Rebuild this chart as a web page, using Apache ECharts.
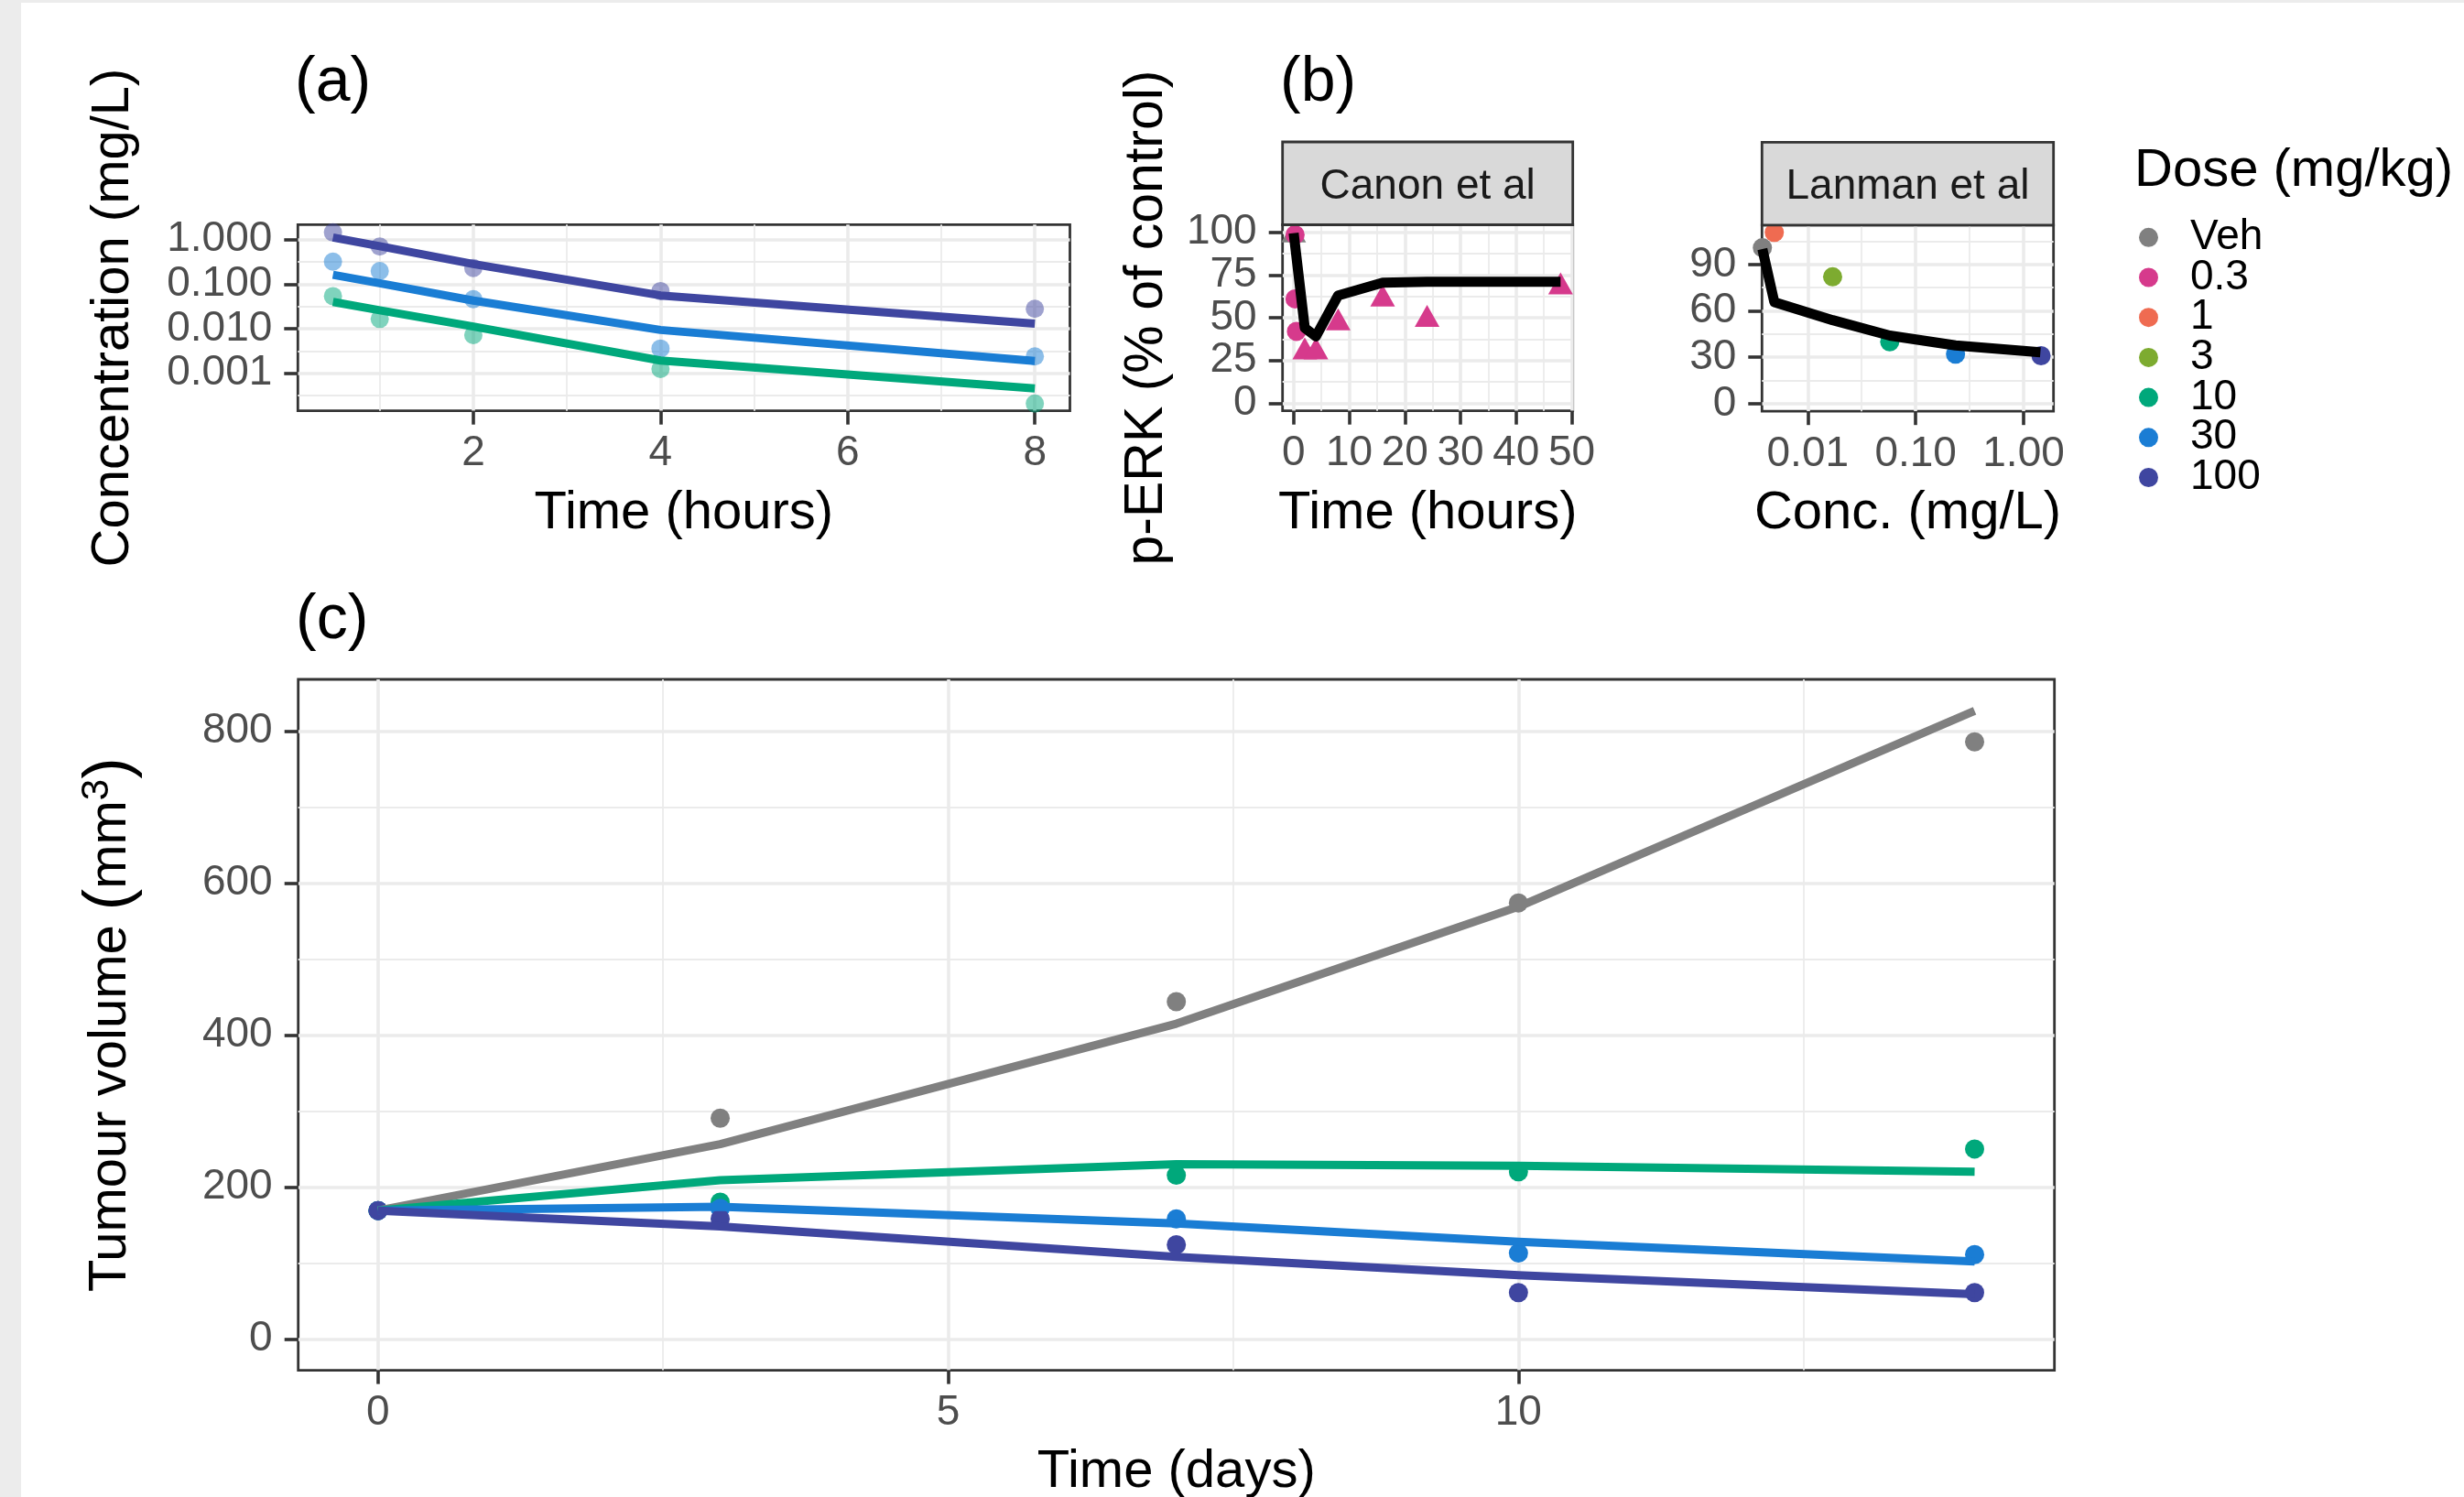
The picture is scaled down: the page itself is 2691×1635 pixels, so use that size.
<!DOCTYPE html>
<html><head><meta charset="utf-8">
<script src="https://cdn.jsdelivr.net/npm/echarts@6/dist/echarts.min.js"></script>
<style>
html,body{margin:0;padding:0;background:#ECECEC;}
#c{position:absolute;left:0;top:0;width:2691px;height:1635px;
background:linear-gradient(#fff,#fff) no-repeat 23px 3px / 2668px 1632px, #ECECEC;}
</style></head><body><div id="c"></div>
<script>
const FONT = "'Liberation Sans', Arial, sans-serif";
const DOSE_NAMES = ['Veh','0.3','1','3','10','30','100'];
const DOSE_COLORS = ['#808080','#D63A8C','#EF6B51','#7DAB30','#00A87B','#1A7DD4','#3F46A0'];
const colorOf = n => DOSE_COLORS[DOSE_NAMES.indexOf(n)];

// ---- (a) PK ----
const PK_TIME = [0.5, 1, 2, 4, 8];
const PK_OBS_100 = [1.45, 0.70, 0.23, 0.07, 0.028];
const PK_OBS_30 = [0.32, 0.197, 0.046, 0.0036, 0.0024];
const PK_OBS_10 = [0.054, 0.0166, 0.0072, 0.00125, 0.00021];
const PK_FIT_100 = [1.12, 0.71, 0.284, 0.056, 0.013];
const PK_FIT_30 = [0.163, 0.105, 0.043, 0.0094, 0.0019];
const PK_FIT_10 = [0.040, 0.026, 0.0112, 0.00194, 0.00046];
const PK_X_TICKS = [2, 4, 6, 8];
const PK_X_MINOR = [1, 3, 5, 7];
const PK_Y_TICKS = [0.001, 0.01, 0.1, 1];
const PK_Y_MINOR = [0.000316, 0.00316, 0.0316, 0.316];

// ---- (b) Canon et al ----
const CANON_CIRCLE_T = [0.25, 0.25, 0.5];
const CANON_CIRCLE_V = [98.5, 61, 42];
const CANON_TRI_T = [2, 4, 8, 16, 24, 48];
const CANON_TRI_V = [32, 32, 49, 63, 51, 70];
const CANON_VEH_T = [0];
const CANON_VEH_V = [100.5];
const CANON_FIT_T = [0, 2, 4, 8, 16, 24, 48];
const CANON_FIT_V = [99.5, 44, 39, 63, 70.5, 71, 71];
const CANON_X_TICKS = [0, 10, 20, 30, 40, 50];
const CANON_X_MINOR = [5, 15, 25, 35, 45];
const CANON_Y_TICKS = [0, 25, 50, 75, 100];
const CANON_Y_MINOR = [12.5, 37.5, 62.5, 87.5];

// ---- (b) Lanman et al ----
const LANMAN_DOSE = ['Veh', '1', '3', '10', '30', '100'];
const LANMAN_CONC = [0.0038, 0.0049, 0.017, 0.0575, 0.234, 1.45];
const LANMAN_PERK = [100.8, 110.7, 82, 40, 32, 31];
const LANMAN_FIT_CONC = [0.0038, 0.0049, 0.017, 0.0575, 0.234, 1.43];
const LANMAN_FIT_PERK = [100, 65.7, 54, 44, 37.7, 33.2];
const LANMAN_X_TICKS = [0.01, 0.1, 1];
const LANMAN_X_MINOR = [0.0316, 0.316];
const LANMAN_Y_TICKS = [0, 30, 60, 90];
const LANMAN_Y_MINOR = [15, 45, 75, 105];

// ---- (c) Tumour volume ----
const TV_DAYS = [0, 3, 7, 10, 14];
const TV_OBS_VEH = [169, 290.6, 444, 574, 786];
const TV_OBS_10 = [169, 180, 215.5, 220, 250];
const TV_OBS_30 = [169, 172, 158, 113, 111];
const TV_OBS_100 = [169, 158, 124, 61, 61];
const TV_FIT_VEH = [169, 256.5, 415, 569, 827];
const TV_FIT_10 = [169, 209, 230, 228, 220];
const TV_FIT_30 = [169, 174, 152, 128, 102];
const TV_FIT_100 = [169, 148, 108, 84, 59];
const TV_X_TICKS = [0, 5, 10];
const TV_X_MINOR = [2.5, 7.5, 12.5];
const TV_Y_TICKS = [0, 200, 400, 600, 800];
const TV_Y_MINOR = [100, 300, 500, 700];

const zip = (xs, ys) => xs.map((x, i) => [x, ys[i]]);

function axis(o) {
  return {
    type: o.type || 'value', gridIndex: o.grid, min: o.min, max: o.max, position: o.position,
    axisLine: {show: false, onZero: false},
    axisTick: {show: true, length: 15, lineStyle: {color: '#333333', width: 3.6}, customValues: o.ticks},
    axisLabel: {show: true, customValues: o.ticks, formatter: o.fmt, color: '#4D4D4D', fontSize: 46,
      fontFamily: FONT, margin: o.margin},
    splitLine: {show: true, lineStyle: {color: '#EBEBEB', width: 3.6}},
    minorTick: {show: false}, minorSplitLine: {show: false},
    name: o.name, nameLocation: 'middle', nameGap: o.gap, nameRotate: o.rot, nameMoveOverlap: false,
    nameTextStyle: Object.assign({color: '#000', fontSize: 58, fontFamily: FONT}, o.nts || {}),
    silent: true, z: 1
  };
}
function minorAxis(o) {
  return {
    type: o.type || 'value', gridIndex: o.grid, min: o.min, max: o.max, position: o.position,
    axisLine: {show: false, onZero: false},
    axisTick: {show: false, customValues: o.ticks},
    axisLabel: {show: false, customValues: o.ticks},
    splitLine: {show: true, lineStyle: {color: '#EBEBEB', width: 1.8}},
    silent: true, z: 0
  };
}
function scatter(name, idx, xs, ys, o) {
  o = o || {};
  return {type: 'scatter', name, xAxisIndex: idx, yAxisIndex: idx, data: zip(xs, ys),
    symbol: o.symbol || 'circle', symbolSize: o.size || 21,
    itemStyle: {color: colorOf(name), opacity: o.opacity == null ? 1 : o.opacity},
    z: 2, silent: true, clip: true};
}
function line(name, idx, xs, ys, color, width) {
  return {type: 'line', name, xAxisIndex: idx, yAxisIndex: idx, data: zip(xs, ys),
    showSymbol: false, symbol: 'none',
    lineStyle: {color, width, cap: 'butt', join: 'round'}, z: 3, silent: true, clip: true};
}

// axis ranges (ggplot-style expanded)
const A_X = [0.125, 8.375], A_Y = [0.000144, 2.173];
const C_X = [-2.0, 50.2], C_Y = [-4.49, 104.44];
const L_X = [0.003767, 1.892], L_Y = [-4.91, 115.46];
const T_X = [-0.7, 14.7], T_Y = [-41.3, 868.3];

const xAxis = [
  axis({grid: 0, min: A_X[0], max: A_X[1], ticks: PK_X_TICKS, position: 'bottom', margin: 24, name: 'Time (hours)', gap: 83}),
  axis({grid: 1, min: C_X[0], max: C_X[1], ticks: CANON_X_TICKS, position: 'bottom', margin: 24, name: 'Time (hours)', gap: 83}),
  axis({grid: 2, type: 'log', min: L_X[0], max: L_X[1], ticks: LANMAN_X_TICKS, position: 'bottom', margin: 24,
        fmt: v => Number(v).toFixed(2), name: 'Conc. (mg/L)', gap: 83}),
  axis({grid: 3, min: T_X[0], max: T_X[1], ticks: TV_X_TICKS, position: 'bottom', margin: 24, name: 'Time (days)', gap: 82}),
  minorAxis({grid: 0, min: A_X[0], max: A_X[1], ticks: PK_X_MINOR, position: 'top'}),
  minorAxis({grid: 1, min: C_X[0], max: C_X[1], ticks: CANON_X_MINOR, position: 'top'}),
  minorAxis({grid: 2, type: 'log', min: L_X[0], max: L_X[1], ticks: LANMAN_X_MINOR, position: 'top'}),
  minorAxis({grid: 3, min: T_X[0], max: T_X[1], ticks: TV_X_MINOR, position: 'top'})
];
const yAxis = [
  axis({grid: 0, type: 'log', min: A_Y[0], max: A_Y[1], ticks: PK_Y_TICKS, position: 'left', margin: 28,
        fmt: v => Number(v).toFixed(3), name: 'Concentration (mg/L)', gap: 172, rot: 90}),
  axis({grid: 1, min: C_Y[0], max: C_Y[1], ticks: CANON_Y_TICKS, position: 'left', margin: 28,
        name: 'p-ERK (% of control)', gap: 118, rot: 90, nts: {fontSize: 59}}),
  axis({grid: 2, min: L_Y[0], max: L_Y[1], ticks: LANMAN_Y_TICKS, position: 'left', margin: 28}),
  axis({grid: 3, min: T_Y[0], max: T_Y[1], ticks: TV_Y_TICKS, position: 'left', margin: 28,
        name: '{t|Tumour volume }{p|(}{t|mm}{s|3}{p|)}', gap: 170, rot: 90,
        nts: {rich: {
          t: {fontSize: 58, fontFamily: FONT, color: '#000'},
          p: {fontSize: 70, fontFamily: FONT, color: '#000'},
          s: {fontSize: 42, fontFamily: FONT, color: '#000', verticalAlign: 'top'}
        }}}),
  minorAxis({grid: 0, type: 'log', min: A_Y[0], max: A_Y[1], ticks: PK_Y_MINOR, position: 'right'}),
  minorAxis({grid: 1, min: C_Y[0], max: C_Y[1], ticks: CANON_Y_MINOR, position: 'right'}),
  minorAxis({grid: 2, min: L_Y[0], max: L_Y[1], ticks: LANMAN_Y_MINOR, position: 'right'}),
  minorAxis({grid: 3, min: T_Y[0], max: T_Y[1], ticks: TV_Y_MINOR, position: 'right'})
];

const gridStyle = {show: true, borderColor: '#333333', borderWidth: 2.8, backgroundColor: 'transparent',
  containLabel: false, outerBoundsMode: 'none'};
const grid = [
  Object.assign({left: 325.3, top: 245.3, width: 843.2, height: 203.4}, gridStyle),
  Object.assign({left: 1400.7, top: 245.3, width: 317, height: 203.4}, gridStyle),
  Object.assign({left: 1924.3, top: 245.8, width: 318.4, height: 203.4}, gridStyle),
  Object.assign({left: 325.7, top: 742, width: 1918, height: 754.6}, gridStyle)
];

const series = [];
// (c) observations first (legend takes style from first series of each name)
series.push(scatter('Veh', 3, TV_DAYS, TV_OBS_VEH));
series.push(scatter('10', 3, TV_DAYS, TV_OBS_10));
series.push(scatter('30', 3, TV_DAYS, TV_OBS_30));
series.push(scatter('100', 3, TV_DAYS, TV_OBS_100));
// Canon
series.push(scatter('Veh', 1, CANON_VEH_T, CANON_VEH_V, {symbol: 'triangle', size: [27, 24]}));
series.push(scatter('0.3', 1, CANON_CIRCLE_T, CANON_CIRCLE_V));
series.push(scatter('0.3', 1, CANON_TRI_T, CANON_TRI_V, {symbol: 'triangle', size: [27, 24]}));
// Lanman
LANMAN_DOSE.forEach((d, i) => series.push(scatter(d, 2, [LANMAN_CONC[i]], [LANMAN_PERK[i]])));
// (a)
series.push(scatter('100', 0, PK_TIME, PK_OBS_100, {opacity: 0.5, size: 20}));
series.push(scatter('30', 0, PK_TIME, PK_OBS_30, {opacity: 0.5, size: 20}));
series.push(scatter('10', 0, PK_TIME, PK_OBS_10, {opacity: 0.5, size: 20}));
// fitted lines
series.push(line('fit a 100', 0, PK_TIME, PK_FIT_100, colorOf('100'), 9));
series.push(line('fit a 30', 0, PK_TIME, PK_FIT_30, colorOf('30'), 9));
series.push(line('fit a 10', 0, PK_TIME, PK_FIT_10, colorOf('10'), 9));
series.push(line('fit Canon', 1, CANON_FIT_T, CANON_FIT_V, '#000000', 11));
series.push(line('fit Lanman', 2, LANMAN_FIT_CONC, LANMAN_FIT_PERK, '#000000', 11));
series.push(line('fit c Veh', 3, TV_DAYS, TV_FIT_VEH, colorOf('Veh'), 9));
series.push(line('fit c 10', 3, TV_DAYS, TV_FIT_10, colorOf('10'), 9));
series.push(line('fit c 30', 3, TV_DAYS, TV_FIT_30, colorOf('30'), 9));
series.push(line('fit c 100', 3, TV_DAYS, TV_FIT_100, colorOf('100'), 9));

const tagStyle = {fontSize: 68, fontWeight: 'normal', color: '#000', fontFamily: FONT};
const option = {
  animation: false,
  backgroundColor: 'transparent',
  title: [
    {text: '(a)', left: 322, top: 57, padding: 0, textStyle: tagStyle},
    {text: '(b)', left: 1398, top: 57, padding: 0, textStyle: tagStyle},
    {text: '(c)', left: 323, top: 644, padding: 0, textStyle: tagStyle},
    {text: 'Dose (mg/kg)', left: 2331, top: 158, padding: 0,
     textStyle: {fontSize: 58, fontWeight: 'normal', color: '#000', fontFamily: FONT}}
  ],
  legend: {
    data: DOSE_NAMES, orient: 'vertical', left: 2336, top: 236.3, padding: 0,
    itemWidth: 81, itemHeight: 21, itemGap: -2.3, icon: 'circle', selectedMode: false,
    itemStyle: {opacity: 1, borderWidth: 0},
    textStyle: {fontSize: 46, color: '#000', fontFamily: FONT, padding: 0}
  },
  grid, xAxis, yAxis, series,
  graphic: {elements: [
    {type: 'rect', shape: {x: 1400.7, y: 155, width: 317, height: 90.5},
     style: {fill: '#D9D9D9', stroke: '#333333', lineWidth: 2.8}, z: 10},
    {type: 'text', x: 1559.2, y: 204, z: 11,
     style: {text: 'Canon et al', fill: '#1A1A1A', fontSize: 46, fontFamily: FONT, align: 'center', verticalAlign: 'middle'}},
    {type: 'rect', shape: {x: 1924.3, y: 155.3, width: 318.4, height: 90.5},
     style: {fill: '#D9D9D9', stroke: '#333333', lineWidth: 2.8}, z: 10},
    {type: 'text', x: 2083.5, y: 204, z: 11,
     style: {text: 'Lanman et al', fill: '#1A1A1A', fontSize: 46, fontFamily: FONT, align: 'center', verticalAlign: 'middle'}}
  ]}
};
const chart = echarts.init(document.getElementById('c'), null, {renderer: 'canvas', width: 2691, height: 1635});
chart.setOption(option);
</script></body></html>
